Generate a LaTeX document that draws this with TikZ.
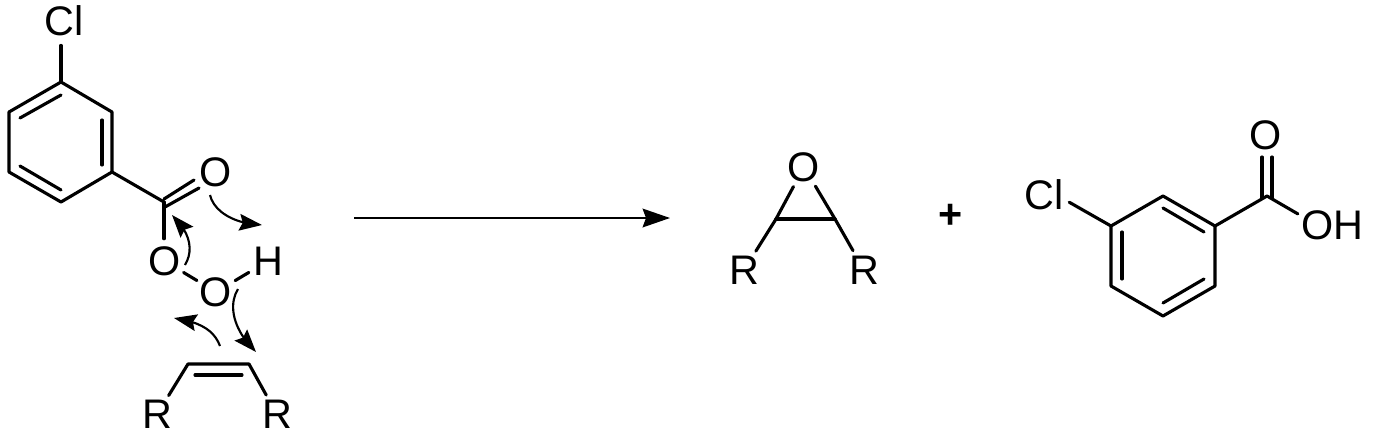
\documentclass[tikz,border=0pt]{standalone}
\usepackage{fontspec}
\setmainfont{Liberation Sans}
\usetikzlibrary{arrows.meta,bending}
\tikzset{
  px/.style={x=0.75pt,y=-0.75pt},
  bond/.style={line width=2.35pt,black,line cap=round,line join=round},
  atom/.style={circle,inner sep=0pt,minimum size=#1,font=\fontsize{31pt}{32pt}\selectfont,text height=21.3pt,text depth=0pt,text=black},
  atom/.default=33pt,
  curly/.style={line width=1.6pt,black,-{Stealth[length=17pt,width=12.5pt,inset=2.5pt,flex=0.8]}},
  mainarrow/.style={line width=1.6pt,black,-{Stealth[length=20.5pt,width=14pt,inset=2.5pt]}},
}
\begin{document}
\begin{tikzpicture}[px]
\useasboundingbox (0,0) rectangle (1373,440);
\fill[white] (0,0) rectangle (1373,440);

% --- peracid ---
\coordinate (a1) at (61,82);
\coordinate (a2) at (112,112);
\coordinate (a3) at (112,172);
\coordinate (a4) at (61,202);
\coordinate (a5) at (9,172);
\coordinate (a6) at (9,112);
\coordinate (ac) at (164,202);
\node[atom=33pt] (cla) at (64.5,21) {Cl};
\node[atom] (oa) at (216,172) {O};
\node[atom] (ob) at (164.5,261) {O};
\node[atom] (oc) at (216,292) {O};
\node[atom] (ha) at (268,261) {H};
\draw[bond] (a1) -- (a2) -- (a3) -- (a4) -- (a5) -- (a6) -- cycle;
\coordinate (ai1) at (20,118); \coordinate (ai2) at (61,95);
\coordinate (ai3) at (102,120); \coordinate (ai4) at (102,165);
\coordinate (ai5) at (20,166); \coordinate (ai6) at (61,190);
\draw[bond] (ai1) -- (ai2);
\draw[bond] (ai3) -- (ai4);
\draw[bond] (ai5) -- (ai6);
\draw[bond] (a1) -- (a1 |- cla.south);
\draw[bond] (a3) -- (ac);
\coordinate (ad1) at (164,199); \coordinate (ad2) at (194,180);
\coordinate (ad3) at (165,207); \coordinate (ad4) at (199,188);
\draw[bond] (ad1) -- (ad2);
\draw[bond] (ad3) -- (ad4);
\draw[bond] (ac) -- (ac |- ob.north);
\draw[bond] (ob) -- (oc);
\draw[bond] (oc) -- (ha);

% --- alkene ---
\coordinate (e1) at (188,364);
\coordinate (e2) at (249,364);
\coordinate (ei1) at (195,375);
\coordinate (ei2) at (242,375);
\node[atom] (ra) at (157,414.5) {R};
\node[atom] (rb) at (277,414.5) {R};
\draw[bond] (ra) -- (e1) -- (e2) -- (rb);
\draw[bond] (ei1) -- (ei2);

% --- curved arrows ---
\coordinate (s1) at (210,195); \coordinate (t1) at (262,225);
\coordinate (s2) at (185,265); \coordinate (t2) at (172,215);
\coordinate (s3) at (238,289); \coordinate (t3) at (256,352);
\coordinate (s4) at (220,346); \coordinate (t4) at (174,318);
\draw[curly] (s1) .. controls (214,212) and (235,224) .. (t1);
\draw[curly] (s2) .. controls (194,250) and (190,232) .. (t2);
\draw[curly] (s3) .. controls (228,305) and (233,330) .. (t3);
\draw[curly] (s4) .. controls (214,330) and (200,322) .. (t4);

% --- reaction arrow ---
\coordinate (m1) at (354,218);
\coordinate (m2) at (670,218);
\draw[mainarrow] (m1) -- (m2);

% --- epoxide ---
\coordinate (p1) at (776,219);
\coordinate (p2) at (835,219);
\node[atom] (op) at (804,167) {O};
\node[atom] (rc) at (744,270) {R};
\node[atom] (rd) at (864,270) {R};
\draw[bond] (p1) -- (p2);
\draw[bond] (op) -- (p1);
\draw[bond] (op) -- (p2);
\draw[bond] (p1) -- (rc);
\draw[bond] (p2) -- (rd);

\node[atom=20pt] (plus) at (951,214) {\bfseries +};

% --- 3-chlorobenzoic acid ---
\coordinate (b1) at (1163,196);
\coordinate (b2) at (1215,226);
\coordinate (b3) at (1215,286);
\coordinate (b4) at (1163,316);
\coordinate (b5) at (1111,286);
\coordinate (b6) at (1111,226);
\coordinate (bc) at (1267,196);
\node[atom=39pt] (clb) at (1044,195) {Cl};
\node[atom] (od) at (1266,135) {O};
\node[atom=53.5pt] (oh) at (1332,225) {OH};
\draw[bond] (b1) -- (b2) -- (b3) -- (b4) -- (b5) -- (b6) -- cycle;
\coordinate (bi1) at (1163,208); \coordinate (bi2) at (1204,232);
\coordinate (bi3) at (1122,232); \coordinate (bi4) at (1122,279);
\coordinate (bi5) at (1163,303); \coordinate (bi6) at (1204,279);
\draw[bond] (bi1) -- (bi2);
\draw[bond] (bi3) -- (bi4);
\draw[bond] (bi5) -- (bi6);
\draw[bond] (b6) -- (clb.-16);
\draw[bond] (b2) -- (bc);
\draw[bond] (bc) -- (oh.162);
\coordinate (bd1) at (1262,157); \coordinate (bd2) at (1262,198);
\coordinate (bd3) at (1272,157); \coordinate (bd4) at (1272,198);
\draw[bond] (bd1) -- (bd2);
\draw[bond] (bd3) -- (bd4);
\end{tikzpicture}
\end{document}
